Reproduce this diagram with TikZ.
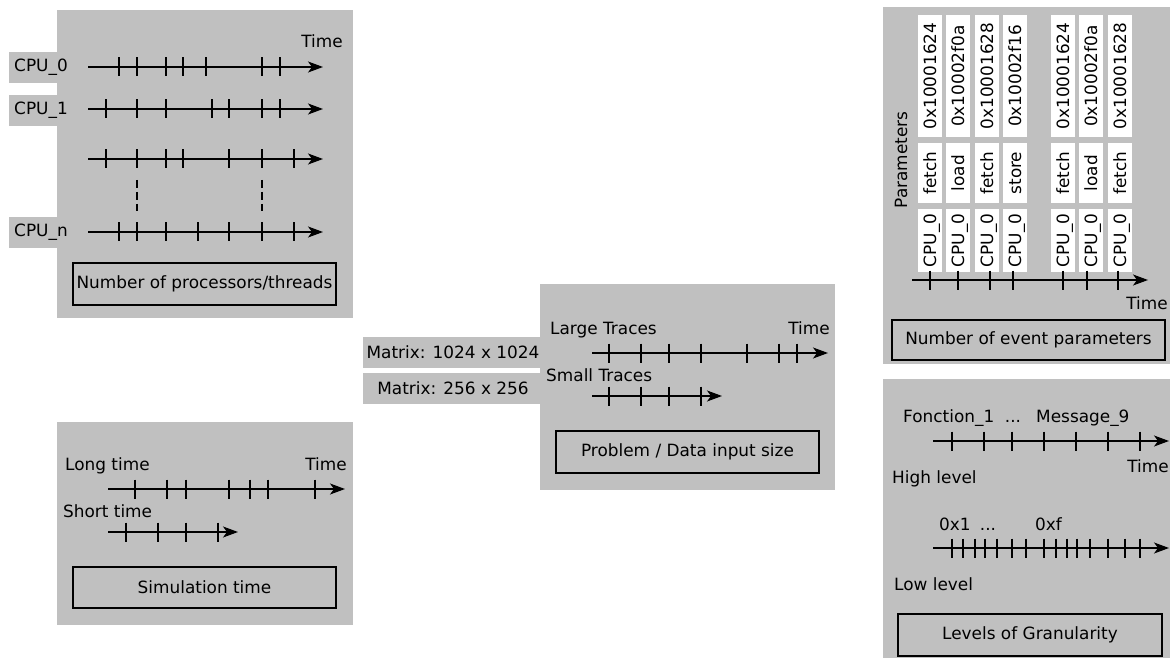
\documentclass[tikz,border=0pt]{standalone}
\usepackage{fontspec}
\setmainfont{DejaVu Sans}
\usetikzlibrary{arrows.meta}
\definecolor{panelgray}{RGB}{192,192,192}
\newcommand\mkticks[2]{\foreach \tx in {#2} \draw[tickline] (\tx,#1-9.5) -- (\tx,#1+9.5);}
\begin{document}
\begin{tikzpicture}[x=1pt,y=-1pt,
  every node/.style={inner sep=0pt, font=\fontsize{16.9}{19}\selectfont},
  panel/.style={fill=panelgray},
  lab/.style={fill=panelgray},
  capbox/.style={draw=black, line width=1.2pt},
  axisline/.style={line width=1.3pt, -{Stealth[length=15pt,width=11pt,inset=4pt]}},
  tickline/.style={line width=1.3pt},
  dashline/.style={line width=1.2pt, dash pattern=on 8pt off 4pt},
  cell/.style={fill=white, rotate=90, text height=12pt, text depth=0pt},
  txt/.style={anchor=base west},
  txtc/.style={anchor=base}
]
\useasboundingbox (0,0) rectangle (1174,660);

% ---------- top-left: processors ----------
\fill[panel] (57,10) rectangle (353,318);
\node[lab, minimum width=64pt, minimum height=31pt] (l0) at (41,67.5) {CPU\_0};
\node[lab, minimum width=64pt, minimum height=31pt] (l1) at (41,110.5) {CPU\_1};
\node[lab, minimum width=64pt, minimum height=31pt] (ln) at (41,232.5) {CPU\_n};
\node[txtc] (t1) at (322,48) {Time};
\coordinate (p0s) at (88,67);  \coordinate (p0e) at (323,67);
\coordinate (p1s) at (88,109); \coordinate (p1e) at (323,109);
\coordinate (p2s) at (88,159); \coordinate (p2e) at (323,159);
\coordinate (pns) at (88,232); \coordinate (pne) at (323,232);
\draw[axisline] (p0s) -- (p0e);
\draw[axisline] (p1s) -- (p1e);
\draw[axisline] (p2s) -- (p2e);
\draw[axisline] (pns) -- (pne);
\mkticks{67}{119,137,166,183,206,262,280}
\mkticks{109}{106,137,166,212,229,262,280}
\mkticks{159}{106,137,166,183,229,262,294}
\mkticks{232}{119,137,166,198,229,262,294}
\coordinate (d1s) at (137,180); \coordinate (d1e) at (137,211);
\coordinate (d2s) at (262,180); \coordinate (d2e) at (262,211);
\draw[dashline] (d1s) -- (d1e);
\draw[dashline] (d2s) -- (d2e);
\node[capbox, minimum width=263pt, minimum height=42pt] (c1) at (204.5,284) {Number of processors/threads};

% ---------- middle: data size ----------
\fill[panel] (540,284) rectangle (835,490);
\node[lab, minimum width=180pt, minimum height=31pt] (m1) at (453,352.5) {Matrix: 1024 x 1024};
\node[lab, minimum width=180pt, minimum height=31pt] (m2) at (453,388.5) {Matrix: 256 x 256};
\node[txt] (lt) at (550,334) {Large Traces};
\node[txtc] (t2) at (809,334) {Time};
\coordinate (ls) at (592,353); \coordinate (le) at (828,353);
\draw[axisline] (ls) -- (le);
\mkticks{353}{609,641,669,701,747,779,797}
\node[txt] (st) at (546,381) {Small Traces};
\coordinate (ss) at (592,396); \coordinate (se) at (722,396);
\draw[axisline] (ss) -- (se);
\mkticks{396}{609,641,669,701}
\node[capbox, minimum width=263pt, minimum height=42pt] (c2) at (687.5,452) {Problem / Data input size};

% ---------- bottom-left: simulation time ----------
\fill[panel] (57,422) rectangle (353,625);
\node[txt] (lgt) at (65,470) {Long time};
\node[txtc] (t3) at (326,470) {Time};
\coordinate (gs) at (108,489); \coordinate (ge) at (345,489);
\draw[axisline] (gs) -- (ge);
\mkticks{489}{135,167,186,229,250,268,315}
\node[txt] (sht) at (63,517) {Short time};
\coordinate (hs) at (108,532); \coordinate (he) at (238,532);
\draw[axisline] (hs) -- (he);
\mkticks{532}{126,158,186,218}
\node[capbox, minimum width=263pt, minimum height=41pt] (c3) at (204.5,587.5) {Simulation time};

% ---------- top-right: event parameters ----------
\fill[panel] (883,7) rectangle (1170,364);
\foreach \cx/\addr/\op [count=\i] in {930/0x10001624/fetch,958/0x10002f0a/load,987/0x10001628/fetch,1015/0x10002f16/store,1063/0x10001624/fetch,1091/0x10002f0a/load,1120/0x10001628/fetch}{
  \node[cell, minimum width=122pt, minimum height=24pt] (a\i) at (\cx,76) {\addr};
  \node[cell, minimum width=60pt, minimum height=24pt] (o\i) at (\cx,173) {\op};
  \node[cell, minimum width=63pt, minimum height=24pt] (u\i) at (\cx,240.5) {CPU\_0};
}
\node[rotate=90] (par) at (901,160) {Parameters};
\coordinate (es) at (912,280); \coordinate (ee) at (1148,280);
\draw[axisline] (es) -- (ee);
\mkticks{280}{930,958,990,1013,1063,1087,1118}
\node[txtc] (t4) at (1147,309) {Time};
\node[capbox, minimum width=273pt, minimum height=40pt] (c4) at (1028.5,340) {Number of event parameters};

% ---------- bottom-right: granularity ----------
\fill[panel] (883,379) rectangle (1170,658);
\node[txt] (f1) at (903,422) {Fonction\_1};
\node[txtc] (dd1) at (1013,422) {...};
\node[txt] (m9) at (1036,422) {Message\_9};
\coordinate (ks) at (933,441); \coordinate (ke) at (1169,441);
\draw[axisline] (ks) -- (ke);
\mkticks{441}{952,984,1012,1044,1076,1108,1140}
\node[txtc] (t5) at (1148,472) {Time};
\node[txt] (hl) at (892,483) {High level};
\node[txt] (x1) at (939,530) {0x1};
\node[txtc] (dd2) at (988,530) {...};
\node[txt] (xf) at (1035,530) {0xf};
\coordinate (ws) at (933,548); \coordinate (we) at (1169,548);
\draw[axisline] (ws) -- (we);
\mkticks{548}{952,963,975,985,997,1012,1026,1044,1056,1067,1077,1090,1108,1125,1140}
\node[txt] (ll) at (894,590) {Low level};
\node[capbox, minimum width=264pt, minimum height=42pt] (c5) at (1030,635) {Levels of Granularity};
\end{tikzpicture}
\end{document}
